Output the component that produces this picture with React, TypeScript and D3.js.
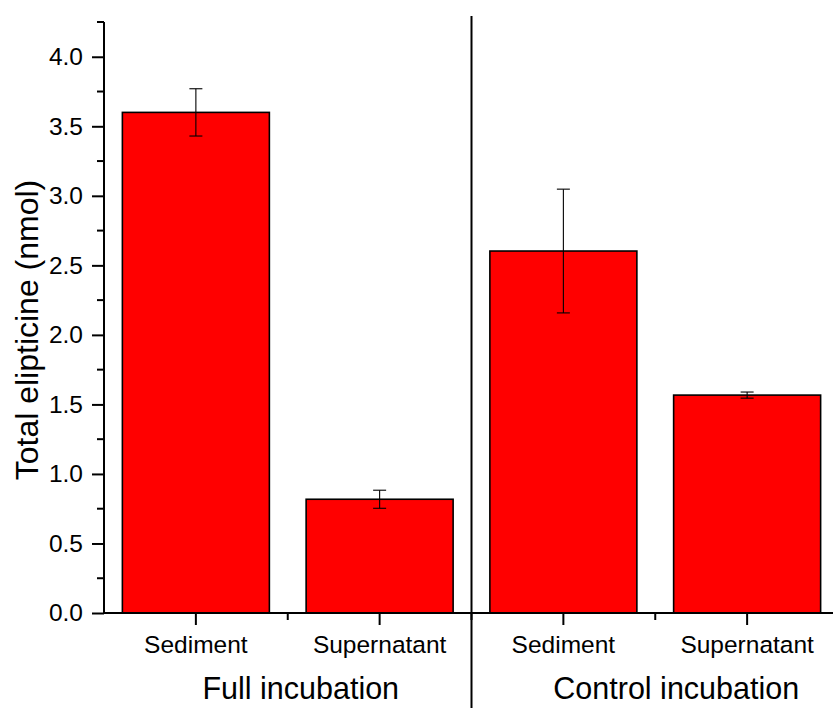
import React, { useEffect, useRef } from 'react';
import * as d3 from 'd3';

// datos
const categories = ['Sediment', 'Supernatant', 'Sediment', 'Supernatant'];
const values = [3.6, 0.818, 2.603, 1.567];
const errors = [0.17, 0.065, 0.445, 0.022];
const groups = ['Full incubation', 'Control incubation'];
const yTicks = [0, 0.5, 1, 1.5, 2, 2.5, 3, 3.5, 4];

const W = 833;
const H = 708;
const FONT = '"Liberation Sans", Arial, sans-serif';

const App = () => {
  const svgRef = useRef<SVGSVGElement | null>(null);

  useEffect(() => {
    if (!svgRef.current) return;
    const svg = d3.select(svgRef.current);
    svg.selectAll('*').remove();

    const x = d3.scaleLinear().domain([0.5, 4.5]).range([104, 839]);
    const y = d3.scaleLinear().domain([0, 4.25]).range([613, 22]);
    const barW = x(1.4) - x(0.6);

    // barras
    svg.selectAll('.bar')
      .data(values)
      .join('rect')
      .attr('x', (_, i) => x(i + 1) - barW / 2)
      .attr('y', d => y(d))
      .attr('width', barW)
      .attr('height', d => y(0) - y(d))
      .attr('fill', '#ff0000')
      .attr('stroke', '#000')
      .attr('stroke-width', 1.6);

    // barras de error
    const err = svg.append('g').attr('stroke', '#000').attr('stroke-width', 1.1);
    values.forEach((v, i) => {
      const cx = x(i + 1);
      err.append('line').attr('x1', cx).attr('x2', cx).attr('y1', y(v + errors[i])).attr('y2', y(v - errors[i]));
      [v + errors[i], v - errors[i]].forEach(e => {
        err.append('line').attr('x1', cx - 6.5).attr('x2', cx + 6.5).attr('y1', y(e)).attr('y2', y(e));
      });
    });

    // eje y
    const yAxis = d3.axisLeft(y)
      .tickValues(yTicks)
      .tickSize(12)
      .tickPadding(9)
      .tickFormat(d3.format('.1f'));
    const gy = svg.append('g').attr('transform', `translate(${x(0.5)},0)`).call(yAxis);
    gy.select('.domain').attr('d', `M0,${y(0)}V${y(4.25)}`).attr('stroke-width', 2);
    gy.selectAll('.tick line').attr('stroke-width', 2);
    gy.selectAll('.tick text').attr('font-family', FONT).attr('font-size', 24.5).attr('fill', '#000');

    const minorY = d3.range(0.25, 4.3, 0.5);
    svg.append('g').selectAll('line').data(minorY).join('line')
      .attr('x1', x(0.5) - 7).attr('x2', x(0.5))
      .attr('y1', d => y(d)).attr('y2', d => y(d))
      .attr('stroke', '#000').attr('stroke-width', 2);

    // eje x
    svg.append('line')
      .attr('x1', x(0.5) - 1).attr('x2', W).attr('y1', y(0)).attr('y2', y(0))
      .attr('stroke', '#000').attr('stroke-width', 2);
    svg.append('g').selectAll('line').data(categories).join('line')
      .attr('x1', (_, i) => x(i + 1)).attr('x2', (_, i) => x(i + 1))
      .attr('y1', y(0)).attr('y2', y(0) + 12)
      .attr('stroke', '#000').attr('stroke-width', 2);
    svg.append('g').selectAll('line').data([1.5, 2.5, 3.5]).join('line')
      .attr('x1', d => x(d)).attr('x2', d => x(d))
      .attr('y1', y(0)).attr('y2', y(0) + 7)
      .attr('stroke', '#000').attr('stroke-width', 2);
    svg.append('g').selectAll('text').data(categories).join('text')
      .attr('x', (_, i) => x(i + 1)).attr('y', 653)
      .attr('text-anchor', 'middle')
      .attr('font-family', FONT).attr('font-size', 24.5)
      .text(d => d);

    // separador
    svg.append('line')
      .attr('x1', x(2.5)).attr('x2', x(2.5)).attr('y1', 16).attr('y2', H)
      .attr('stroke', '#000').attr('stroke-width', 2);

    // etiquetas de grupo
    const groupX = [x(1.5) + 13, x(3.5) + 21];
    svg.append('g').selectAll('text').data(groups).join('text')
      .attr('x', (_, i) => groupX[i]).attr('y', 699)
      .attr('text-anchor', 'middle')
      .attr('font-family', FONT).attr('font-size', 30.5)
      .text(d => d);

    // titulo del eje y
    svg.append('text')
      .attr('transform', `translate(38,${(170 + 490) / 2}) rotate(-90)`)
      .attr('text-anchor', 'middle')
      .attr('font-family', FONT).attr('font-size', 32)
      .text('Total elipticine (nmol)');
  }, []);

  return (
    <svg
      ref={svgRef}
      width={W}
      height={H}
      style={{ position: 'absolute', left: 0, top: 0, background: '#fff' }}
    />
  );
};

export default App;
